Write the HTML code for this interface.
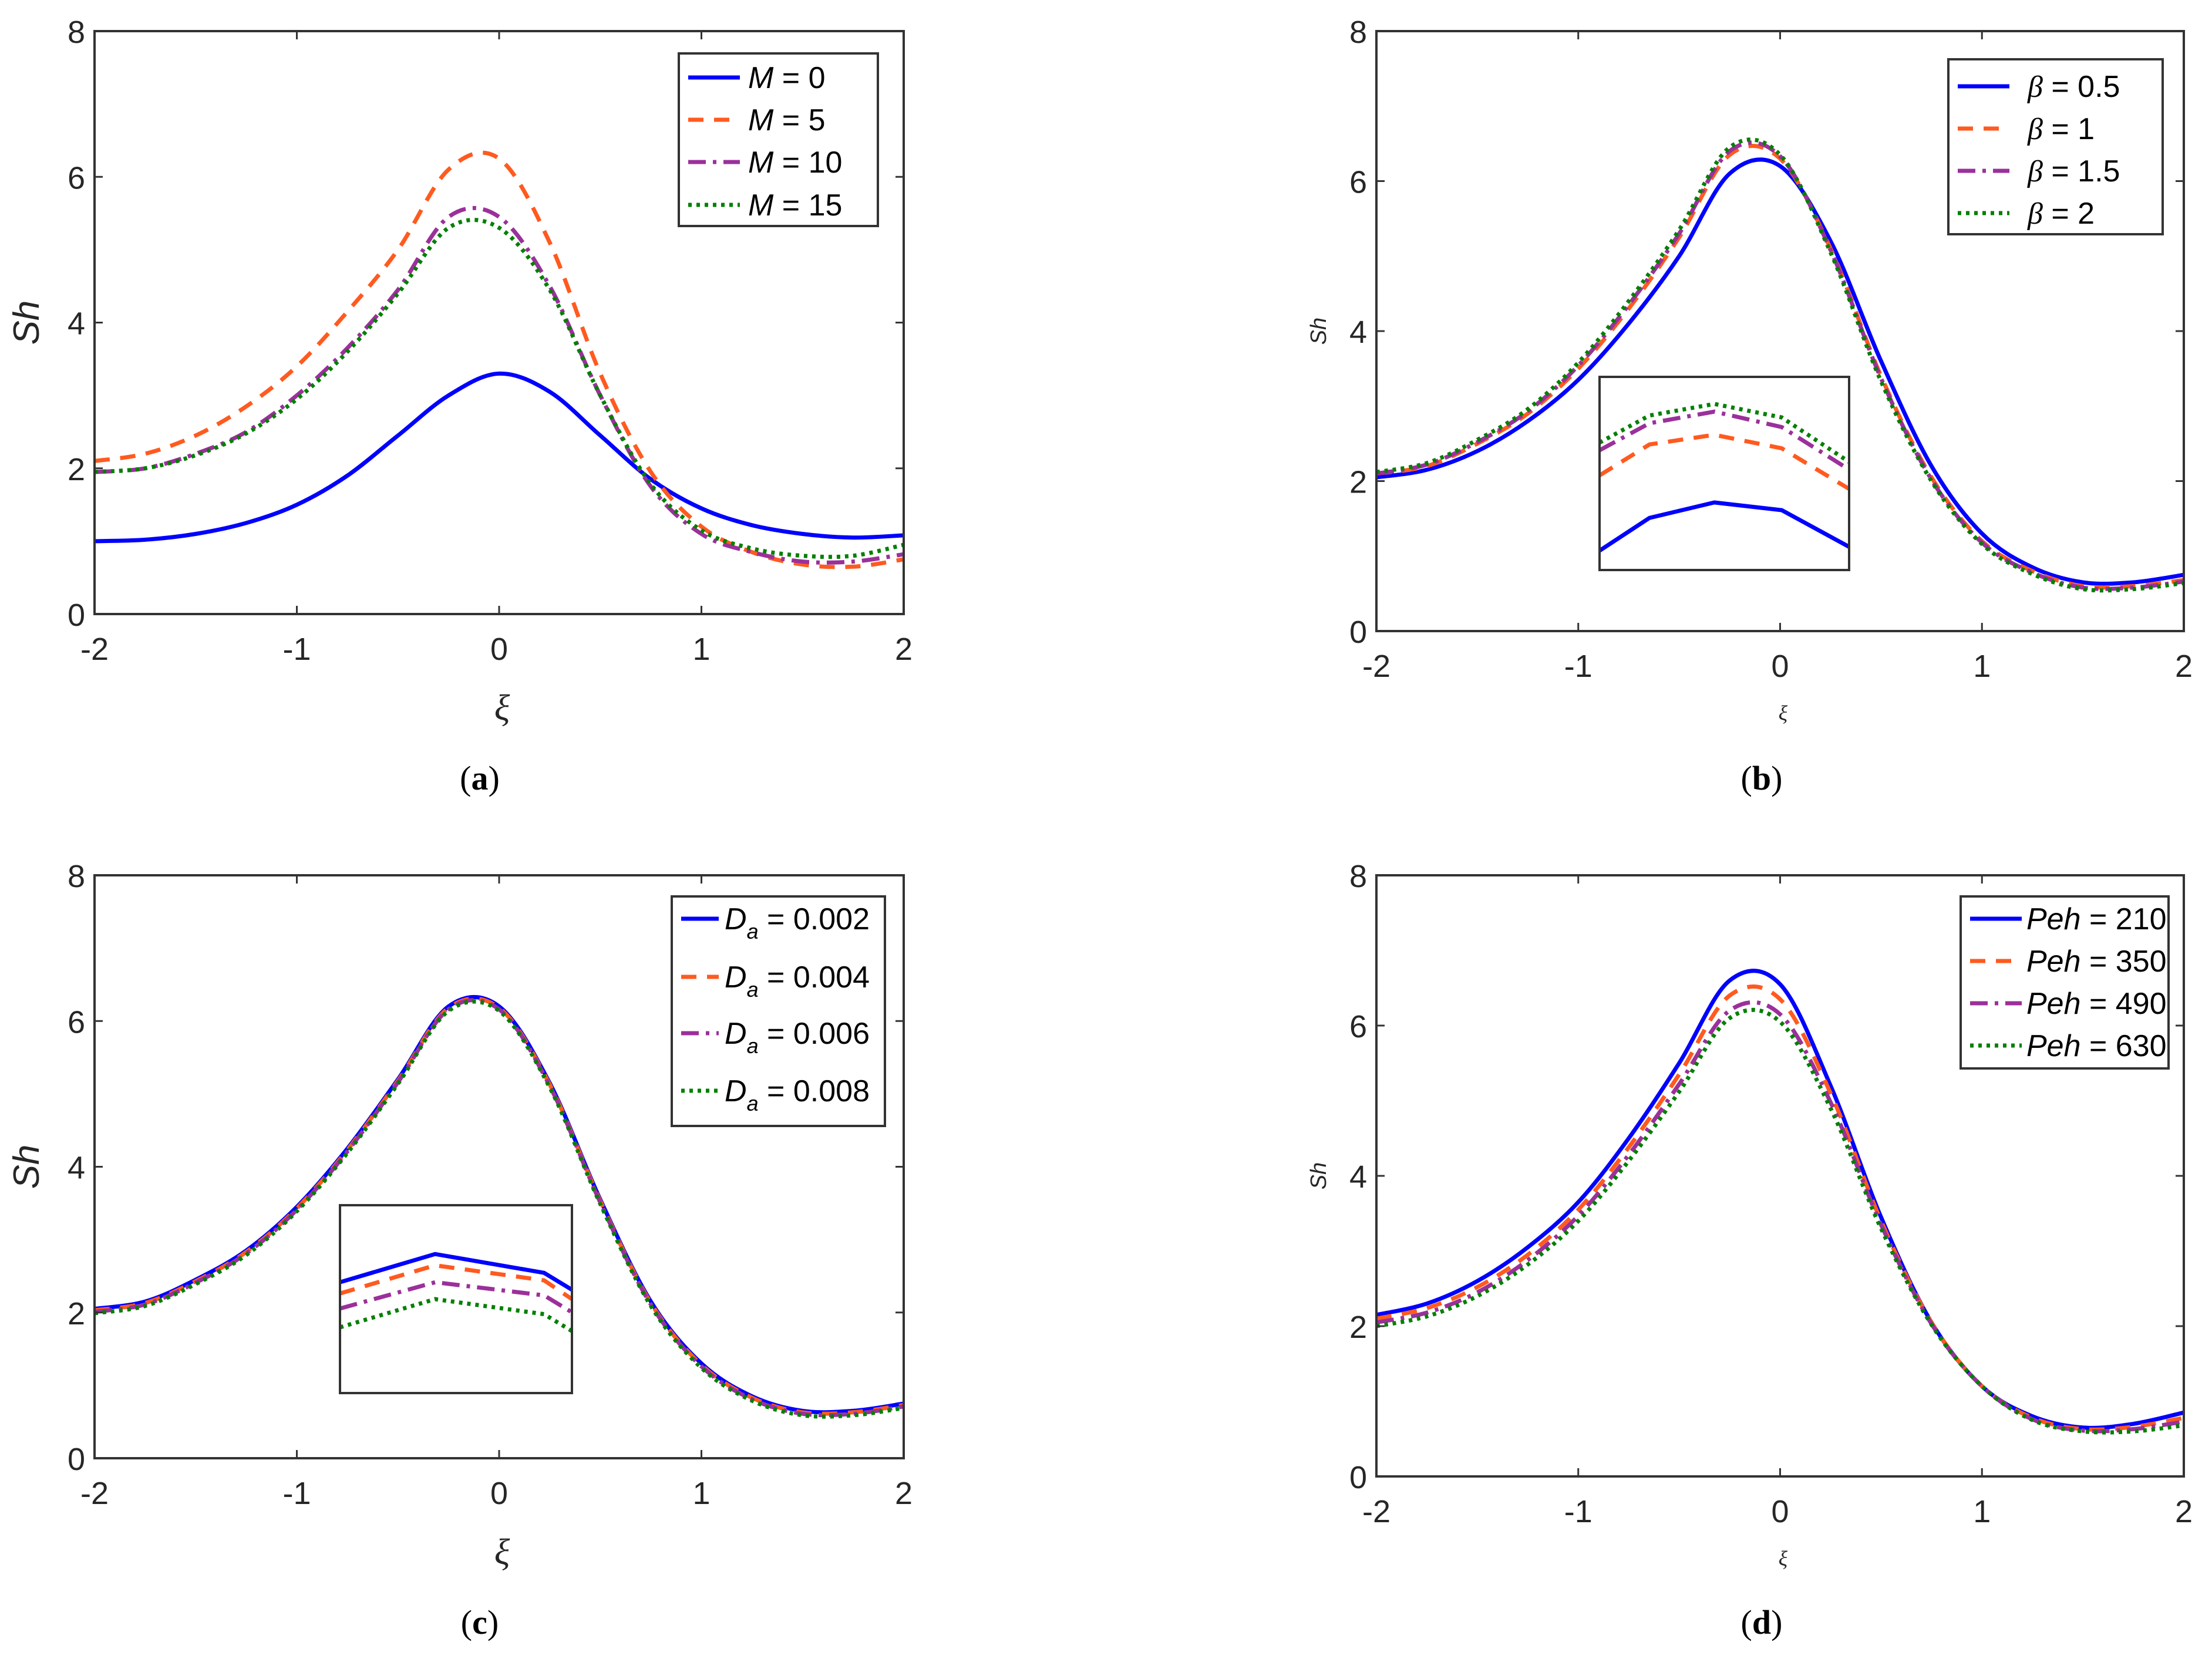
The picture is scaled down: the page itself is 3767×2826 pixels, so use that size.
<!DOCTYPE html>
<html><head><meta charset="utf-8"><style>
html,body{margin:0;padding:0;background:#fff;}
svg{display:block;font-family:"Liberation Sans",sans-serif;}
</style></head><body>
<svg id="fig" width="3767" height="2826" viewBox="0 0 3767 2826" xmlns="http://www.w3.org/2000/svg"></svg>
<script>
const xs = [-2,-1.75,-1.5,-1.25,-1,-0.75,-0.5,-0.25,0,0.25,0.5,0.75,1,1.25,1.5,1.75,2];
const xTicks = [-2,-1,0,1,2];
const yTicks = [0,2,4,6,8];
const xTickLabels = ["-2","-1","0","1","2"];
const yTickLabels = ["0","2","4","6","8"];

// Panel a
const aNames = ["M = 0","M = 5","M = 10","M = 15"];
const aM0  = [1.0,1.02,1.1,1.25,1.5,1.9,2.45,3.0,3.3,3.05,2.45,1.85,1.45,1.22,1.1,1.05,1.08];
const aM5  = [2.1,2.2,2.45,2.85,3.4,4.15,5.0,6.1,6.25,5.1,3.3,1.95,1.2,0.85,0.68,0.65,0.75];
const aM10 = [1.95,2.0,2.2,2.5,3.0,3.65,4.45,5.45,5.45,4.5,3.0,1.75,1.1,0.85,0.72,0.72,0.82];
const aM15 = [1.95,2.0,2.18,2.48,2.95,3.6,4.4,5.3,5.3,4.45,3.0,1.78,1.15,0.9,0.8,0.8,0.95];
// Panel b
const bNames = ["β = 0.5","β = 1","β = 1.5","β = 2"];
const bB05 = [2.05,2.15,2.4,2.8,3.35,4.1,5.0,6.1,6.2,5.2,3.6,2.2,1.3,0.85,0.65,0.65,0.75];
const bB1  = [2.1,2.2,2.5,2.9,3.5,4.3,5.25,6.35,6.3,5.1,3.4,2.05,1.2,0.8,0.6,0.6,0.68];
const bB15 = [2.1,2.22,2.52,2.93,3.54,4.35,5.3,6.4,6.33,5.08,3.37,2.02,1.18,0.78,0.58,0.58,0.66];
const bB2  = [2.12,2.24,2.55,2.96,3.58,4.4,5.35,6.45,6.35,5.05,3.33,2.0,1.16,0.76,0.56,0.56,0.64];
// Panel c
const cNames = ["0.002","0.004","0.006","0.008"];
const cD2 = [2.05,2.15,2.45,2.85,3.45,4.25,5.2,6.2,6.2,5.15,3.55,2.15,1.3,0.85,0.65,0.65,0.75];
const cD4 = [2.03,2.13,2.43,2.83,3.43,4.23,5.18,6.18,6.18,5.13,3.53,2.13,1.28,0.83,0.63,0.63,0.73];
const cD6 = [2.01,2.11,2.41,2.81,3.41,4.21,5.16,6.16,6.16,5.11,3.51,2.11,1.26,0.81,0.61,0.61,0.71];
const cD8 = [1.99,2.09,2.39,2.79,3.39,4.19,5.14,6.14,6.14,5.09,3.49,2.09,1.24,0.79,0.59,0.59,0.69];
// Panel d
const dNames = ["Peh = 210","Peh = 350","Peh = 490","Peh = 630"];
const dP210 = [2.15,2.3,2.6,3.05,3.65,4.5,5.5,6.6,6.55,5.2,3.45,2.05,1.2,0.8,0.65,0.7,0.85];
const dP350 = [2.1,2.24,2.52,2.95,3.55,4.38,5.35,6.4,6.35,5.1,3.4,2.05,1.2,0.78,0.63,0.66,0.78];
const dP490 = [2.05,2.18,2.45,2.88,3.47,4.28,5.22,6.2,6.15,4.98,3.35,2.03,1.2,0.76,0.61,0.63,0.73];
const dP630 = [2.0,2.13,2.4,2.82,3.4,4.2,5.12,6.1,6.05,4.9,3.3,2.02,1.2,0.75,0.6,0.6,0.68];
// Insets (local normalized 0 = top, 1 = bottom)
const bInsetX = [0,0.2,0.46,0.73,1];
const bInsetG = [0.34,0.2,0.14,0.21,0.44];
const bInsetP = [0.38,0.24,0.18,0.26,0.48];
const bInsetO = [0.51,0.35,0.3,0.37,0.58];
const bInsetB = [0.9,0.73,0.65,0.69,0.88];
const cInsetX = [0,0.41,0.88,1];
const cInsetB = [0.41,0.26,0.36,0.45];
const cInsetO = [0.47,0.32,0.4,0.5];
const cInsetP = [0.55,0.41,0.48,0.57];
const cInsetG = [0.65,0.5,0.58,0.67];

const NS="http://www.w3.org/2000/svg";
const svg=document.getElementById('fig');
const STY=[
 {c:"#0000ff",d:"",w:7},
 {c:"#ff5a1f",d:"26 18",w:7},
 {c:"#9b309b",d:"30 12 6 12",w:7},
 {c:"#008000",d:"6 8",w:7}
];
function el(tag,attrs,parent){const e=document.createElementNS(NS,tag);for(const k in attrs)e.setAttribute(k,attrs[k]);(parent||svg).appendChild(e);return e;}
function spline(pts){
  let d="M"+pts[0][0].toFixed(1)+","+pts[0][1].toFixed(1);
  for(let i=0;i<pts.length-1;i++){
    const p0=pts[i-1]||pts[i],p1=pts[i],p2=pts[i+1],p3=pts[i+2]||pts[i+1];
    const c1=[p1[0]+(p2[0]-p0[0])/6,p1[1]+(p2[1]-p0[1])/6];
    const c2=[p2[0]-(p3[0]-p1[0])/6,p2[1]-(p3[1]-p1[1])/6];
    d+=" C"+c1.map(v=>v.toFixed(1))+" "+c2.map(v=>v.toFixed(1))+" "+p2.map(v=>v.toFixed(1));
  }
  return d;
}
function panel(o){
  const g=el('g',{});
  
  
  const sx=v=>o.L+(v+2)/4*(o.R-o.L);
  const sy=v=>o.B-v/8*(o.B-o.T);
  o.series.forEach((s,i)=>{
    const p=el('path',{d:spline(xs.map((x,j)=>[sx(x),sy(s[j])])),fill:"none",stroke:STY[i].c,"stroke-width":STY[i].w,"stroke-dasharray":STY[i].d,"stroke-linejoin":"round"},g);
    
    
  });
  const ax=el('rect',{x:o.L,y:o.T,width:o.R-o.L,height:o.B-o.T,fill:"none",stroke:"#333","stroke-width":4},g);
  
  
  xTicks.forEach((t,i)=>{
    const X=sx(t);
    el('line',{x1:X,y1:o.B,x2:X,y2:o.B-14,stroke:"#333","stroke-width":3},g);
    el('line',{x1:X,y1:o.T,x2:X,y2:o.T+14,stroke:"#333","stroke-width":3},g);
    const tx=el('text',{x:X,y:o.B+78,"font-size":54,fill:"#262626","text-anchor":"middle"},g);
    tx.textContent=xTickLabels[i];
    
    
  });
  yTicks.forEach((t,i)=>{
    const Y=sy(t);
    el('line',{x1:o.L,y1:Y,x2:o.L+14,y2:Y,stroke:"#333","stroke-width":3},g);
    el('line',{x1:o.R,y1:Y,x2:o.R-14,y2:Y,stroke:"#333","stroke-width":3},g);
    const tx=el('text',{x:o.L-16,y:Y+20,"font-size":54,fill:"#262626","text-anchor":"end"},g);
    tx.textContent=yTickLabels[i];
    
    
  });
  const yl=el('text',{x:0,y:0,"font-size":o.big?62:38,"font-style":"italic",fill:"#262626","text-anchor":"middle",transform:`translate(${o.L-(o.big?95:86)},${(o.T+o.B)/2}) rotate(-90)`},g);
  yl.textContent="Sh";
  
  
  const xl=el('text',{x:(o.L+o.R)/2+5,y:o.B+(o.big?180:152),"font-size":o.big?62:36,"font-style":"italic","font-family":"Liberation Serif, serif",fill:"#262626","text-anchor":"middle"},g);
  xl.textContent="ξ";
  
  
  const pl=el('text',{x:o.labX,y:o.labY,"font-size":58,"font-family":"Liberation Serif, serif",fill:"#000","text-anchor":"middle"},g);
  pl.innerHTML='(<tspan font-weight="bold">'+o.id+'</tspan>)';
  
  
  const lg=el('g',{},g);
  
  
  el('rect',{x:o.lg[0],y:o.lg[1],width:o.lg[2],height:o.lg[3],fill:"#fff",stroke:"#333","stroke-width":4},lg);
  o.names.forEach((n,i)=>{
    const Y=o.lgY[i];
    const ln=el('line',{x1:o.lg[0]+16,y1:Y,x2:o.lg[0]+(o.lnEnd||104),y2:Y,stroke:STY[i].c,"stroke-width":7,"stroke-dasharray":STY[i].d},lg);
    
    
    const t=el('text',{x:o.lg[0]+(o.txtOff||118),y:Y+18,"font-size":52,fill:"#000"},lg);
    t.innerHTML=o.fmt(n);
    
    
  });
  if(o.inset){
    const ins=el('g',{},g);
    
    
    const [ix,iy,iw,ih]=o.inset.box;
    el('rect',{x:ix,y:iy,width:iw,height:ih,fill:"#fff",stroke:"#333","stroke-width":4},ins);
    o.inset.lines.forEach(l=>{
      const pts=o.inset.x.map((f,j)=>(ix+f*iw).toFixed(1)+","+(iy+l.v[j]*ih).toFixed(1)).join(" ");
      const p=el('polyline',{points:pts,fill:"none",stroke:STY[l.s].c,"stroke-width":7,"stroke-dasharray":STY[l.s].d},ins);
      
      
    });
    el('rect',{x:ix,y:iy,width:iw,height:ih,fill:"none",stroke:"#333","stroke-width":4},ins);
  }
}
const it=s=>s.replace(/^([A-Za-z]+)/,'<tspan font-style="italic">$1</tspan>');
panel({id:"a",L:161,R:1539,T:53,B:1046,big:true,series:[aM0,aM5,aM10,aM15],names:aNames,
  lg:[1156,91,339,294],lgY:[132,204,276,349],fmt:it,labX:817,labY:1345});
panel({id:"b",L:2344,R:3719,T:53,B:1075,big:false,series:[bB05,bB1,bB15,bB2],names:bNames,
  lg:[3318,101,365,298],lgY:[147,219,291,363],fmt:s=>'<tspan font-style="italic" font-family="Liberation Serif, serif">β</tspan>'+s.slice(1),txtOff:135,labX:3000,labY:1345,
  inset:{box:[2724,642,425,329],x:bInsetX,lines:[{s:3,v:bInsetG},{s:2,v:bInsetP},{s:1,v:bInsetO},{s:0,v:bInsetB}]}});
panel({id:"c",L:161,R:1539,T:1491,B:2484,big:true,series:[cD2,cD4,cD6,cD8],names:cNames,
  lg:[1144,1527,363,391],lgY:[1565,1664,1760,1858],fmt:s=>'<tspan font-style="italic">D</tspan><tspan font-size="36" dy="16" font-style="italic">a</tspan><tspan dy="-16"> = '+s+'</tspan>',txtOff:90,lnEnd:80,labX:817,labY:2783,
  inset:{box:[579,2053,395,320],x:cInsetX,lines:[{s:0,v:cInsetB},{s:1,v:cInsetO},{s:2,v:cInsetP},{s:3,v:cInsetG}]}});
panel({id:"d",L:2344,R:3719,T:1491,B:2515,big:false,series:[dP210,dP350,dP490,dP630],names:dNames,
  lg:[3339,1527,354,293],lgY:[1565,1637,1709,1781],fmt:it,txtOff:112,labX:3000,labY:2783});
</script>
</body></html>
